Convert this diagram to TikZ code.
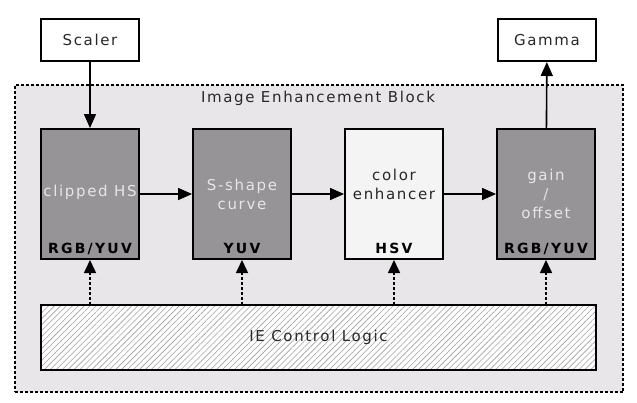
\documentclass[tikz,border=0pt]{standalone}
\usepackage{xcolor}
\usepackage{fontspec}
\setmainfont{DejaVu Sans}[LetterSpace=11]
\newfontfamily\fmtfont{DejaVu Sans}[LetterSpace=16]
\usepackage{tikz}
\usetikzlibrary{arrows.meta,positioning,patterns.meta}
\definecolor{blockbg}{RGB}{233,230,233}
\definecolor{darkblk}{RGB}{150,148,150}
\definecolor{lighttxt}{RGB}{230,230,230}
\definecolor{inktxt}{RGB}{40,40,40}
\definecolor{paleblk}{RGB}{245,244,245}
\definecolor{hatch}{RGB}{160,160,160}

\begin{document}
\begin{tikzpicture}[x=1pt, y=-1pt,
    node distance=52pt,
    io/.style={draw, line width=1.6pt, minimum width=98.4pt, minimum height=42.4pt,
               fill=white, text=inktxt, font=\fontsize{15}{19}\selectfont},
    blk/.style={draw, line width=1.6pt, minimum width=98.4pt, minimum height=130.4pt, fill=darkblk},
    main/.style={font=\fontsize{15}{19}\selectfont, text=lighttxt, align=center, inner sep=0pt},
    fmt/.style={font=\fontsize{14}{16}\fmtfont\bfseries, text=black, anchor=base, inner sep=0pt},
    flow/.style={-{Triangle[length=14pt,width=12pt]}, line width=1.6pt},
    ctrl/.style={-{Triangle[length=13pt,width=12pt]}, line width=1.6pt, dash pattern=on 3pt off 2pt}
]
    \useasboundingbox (0,0) rectangle (637,402);

    % outer block
    \node[draw, line width=1.6pt, dash pattern=on 3pt off 2pt, fill=blockbg,
          minimum width=608.4pt, minimum height=307.4pt] (ieb) at (319,238.5) {};
    \node[font=\fontsize{15}{19}\selectfont, text=inktxt] (iebtitle) at (318,98) {Image Enhancement Block};

    % external blocks
    \node[io] (scaler) at (90,40) {Scaler};
    \node[io] (gamma) at (547,40) {Gamma};

    % processing chain
    \node[blk] (clip) at (90,194) {};
    \node[blk, right=of clip] (scurve) {};
    \node[blk, right=of scurve, fill=paleblk] (colenh) {};
    \node[blk, right=of colenh] (gain) {};

    \node[main, yshift=2pt] (cliptxt) at (clip.center) {clipped HS};
    \node[main] (scurvetxt) at (scurve.center) {S-shape\\curve};
    \node[main, text=inktxt, yshift=10pt] (colenhtxt) at (colenh.center) {color\\enhancer};
    \node[main] (gaintxt) at (gain.center) {gain\\/\\offset};

    \node[fmt] (clipfmt) at ([yshift=7pt]clip.south) {RGB/YUV};
    \node[fmt] (scurvefmt) at ([yshift=7pt]scurve.south) {YUV};
    \node[fmt] (colenhfmt) at ([yshift=7pt]colenh.south) {HSV};
    \node[fmt] (gainfmt) at ([yshift=7pt]gain.south) {RGB/YUV};

    % control logic
    \node[draw, line width=1.6pt, preaction={fill=white},
          pattern={Lines[angle=45,distance=4.2pt,line width=0.6pt]}, pattern color=hatch,
          minimum width=555.4pt, minimum height=65.4pt] (ctl) at (318.5,337.5) {};
    \node[font=\fontsize{15}{19}\selectfont, text=inktxt] (ctltxt) at (ctl.center) {IE Control Logic};

    % connections
    \draw[flow] (scaler) -- (clip);
    \draw[flow] (clip) -- (scurve);
    \draw[flow] (scurve) -- (colenh);
    \draw[flow] (colenh) -- (gain);
    \draw[flow] (gain) -- (gamma);
    \foreach \b in {clip,scurve,colenh,gain}
        \draw[ctrl] (ctl.north -| \b) -- (\b);
\end{tikzpicture}
\end{document}
